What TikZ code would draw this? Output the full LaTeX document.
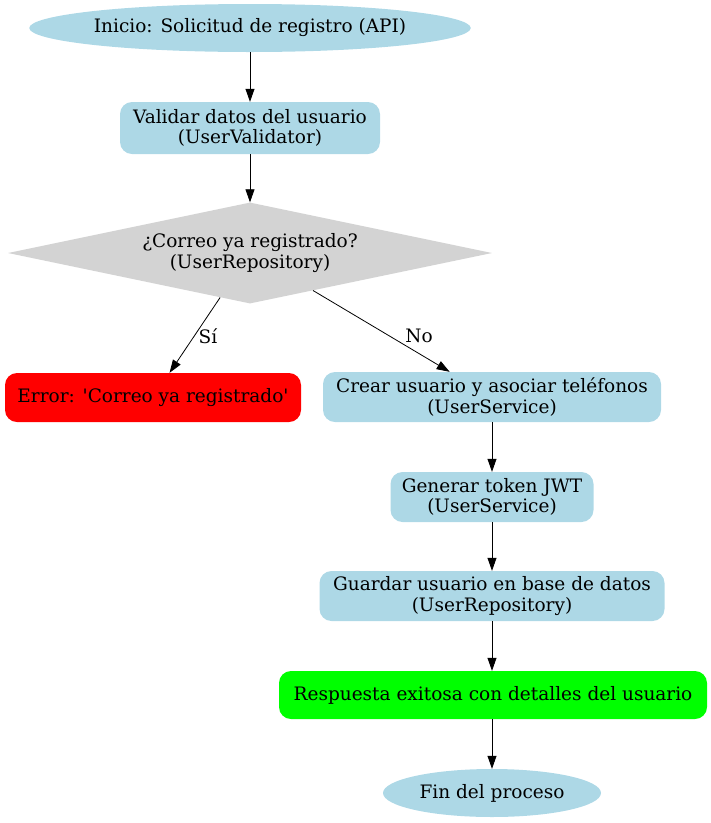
\documentclass[tikz,border=0pt]{standalone}
\usepackage{fontspec}
\setmainfont{DejaVu Serif}
\usetikzlibrary{shapes.geometric,arrows.meta}
\definecolor{lblue}{HTML}{ADD8E6}
\definecolor{lgray}{HTML}{D3D3D3}
\definecolor{gvred}{HTML}{FF0000}
\definecolor{gvgreen}{HTML}{00FF00}
\begin{document}
\begin{tikzpicture}[x=1pt,y=-1pt,
  every node/.style={font=\fontsize{18.5}{20.5}\selectfont, align=center, inner sep=0pt},
  stepbox/.style={rectangle, rounded corners=12pt, fill=lblue},
  termnode/.style={ellipse, fill=lblue},
  decision/.style={diamond, fill=lgray, shape aspect=4.8},
  flow/.style={-{Triangle[length=13pt,width=9pt]}, line width=0.8pt, black},
  elabel/.style={font=\fontsize{18.5}{20.5}\selectfont}
]
\useasboundingbox (0,0) rectangle (711,823);
\node[termnode, minimum width=436pt, minimum height=48pt] (start) at (250,28) {Inicio: Solicitud de registro (API)};
\node[stepbox, minimum width=260pt, minimum height=52pt] (val) at (250,128) {Validar datos del usuario\\(UserValidator)};
\node[decision, minimum width=484pt, minimum height=101pt] (dec) at (250,253) {¿Correo ya registrado?\\(UserRepository)};
\node[stepbox, fill=gvred, minimum width=296pt, minimum height=49pt] (err) at (153,397.5) {Error: \textquotesingle Correo ya registrado\textquotesingle};
\node[stepbox, minimum width=338pt, minimum height=50pt] (crear) at (492,397) {Crear usuario y asociar teléfonos\\(UserService)};
\node[stepbox, minimum width=203pt, minimum height=50pt] (gen) at (492,497) {Generar token JWT\\(UserService)};
\node[stepbox, minimum width=345pt, minimum height=50pt] (guar) at (492,596) {Guardar usuario en base de datos\\(UserRepository)};
\node[stepbox, fill=gvgreen, minimum width=428pt, minimum height=48pt] (resp) at (493,695) {Respuesta exitosa con detalles del usuario};
\node[termnode, minimum width=218pt, minimum height=48pt] (fin) at (492,793) {Fin del proceso};
\node[elabel] (lsi) at (208,336) {Sí};
\node[elabel] (lno) at (419,336) {No};
\draw[flow] (start) -- (val);
\draw[flow] (val) -- (dec);
\draw[flow] (dec) -- (err);
\draw[flow] (dec) -- (crear);
\draw[flow] (crear) -- (gen);
\draw[flow] (gen) -- (guar);
\draw[flow] (guar) -- (resp.north -| guar.south);
\draw[flow] (resp.south -| fin.north) -- (fin);
\end{tikzpicture}
\end{document}
